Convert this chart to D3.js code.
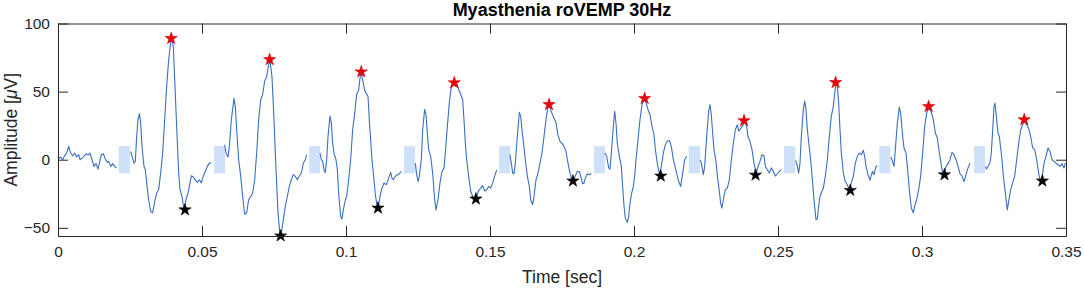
<!DOCTYPE html>
<html>
<head>
<meta charset="utf-8">
<script src="https://cdn.jsdelivr.net/npm/d3@7"></script>
<style>
  body { margin: 0; background: #fff; }
  svg { display: block; font-family: "Liberation Sans", Arial, sans-serif; }
</style>
</head>
<body>
<svg></svg>
<script>
const w = 1084
const h = 291

// recorded trace [time sec, amplitude uV]; null = blanked window
const signal = [
  [0,0.5],[0.00093,2],[0.00162,0],[0.00231,3],[0.00301,4.9],[0.0037,9.8],[0.0044,4.9],[0.00509,2.9],
  [0.00579,4.9],[0.00648,2],[0.00718,3.7],[0.00764,0],[0.00833,1.2],[0.00903,2.5],[0.00972,4.4],[0.01042,3.4],
  [0.01111,4.9],[0.01181,0],[0.0125,-4.9],[0.01319,-2.9],[0.01389,-6.9],[0.01435,-2.5],[0.01505,3.7],[0.01574,4.4],
  [0.01644,0.5],[0.01713,-2],[0.01759,-1.2],[0.01829,-4.9],[0.01898,-2.9],[0.01968,-4.9],[0.02037,-6.1],
  [0.023,null],
  [0.02523,6.1],[0.02569,2.5],[0.02639,-2.5],[0.02685,-1.2],[0.02731,17],[0.02778,29.4],[0.02824,33.8],[0.0287,27],
  [0.02917,9.8],[0.02986,-4.9],[0.03032,-7.4],[0.03079,-17],[0.03148,-29.4],[0.03218,-38],[0.03287,-39],[0.03356,-31],
  [0.03426,-24.5],[0.03495,-22],[0.03565,-9.8],[0.03634,4.9],[0.03704,29.4],[0.03773,54],[0.03843,73.5],[0.03912,85.8],
  [0.03958,88],[0.04005,83],[0.04051,59],[0.0412,24.5],[0.0419,-9.8],[0.04236,-22],[0.04306,-27],[0.04375,-36.8],
  [0.04444,-29.4],[0.04514,-24.5],[0.04583,-17],[0.0463,-11.8],[0.04699,-12.7],[0.04769,-15],[0.04838,-16.7],[0.04907,-14.7],
  [0.04977,-17],[0.05046,-12],[0.05116,-8.6],[0.05185,-4.9],[0.05255,-2.5],[0.05324,-2],
  [0.056,null],
  [0.05787,11],[0.05833,4.9],[0.05903,2],[0.05949,9.8],[0.06019,29.4],[0.06111,45],[0.06157,39],[0.06204,22],
  [0.06273,0],[0.06343,-12],[0.06412,-27],[0.06481,-40],[0.06551,-39],[0.0662,-29.4],[0.0669,-27],[0.06759,-24.5],
  [0.06829,-14.7],[0.06898,4.9],[0.06968,29.4],[0.07037,44],[0.07106,48],[0.07176,57.6],[0.07245,61],[0.07315,70],
  [0.07361,72.5],[0.0743,61],[0.075,29.4],[0.07569,-7.4],[0.07639,-39],[0.07708,-55.5],[0.07755,-54],[0.07824,-44],
  [0.07894,-34],[0.07963,-27],[0.08032,-19.6],[0.08102,-14.7],[0.08171,-11],[0.08241,-12.2],[0.0831,-14.7],[0.0838,-12],
  [0.08449,-9.8],[0.08519,-2.5],[0.08588,0],[0.08634,3.7],
  [0.089,null],
  [0.09097,4.9],[0.09144,0],[0.0919,-1.2],[0.09236,-7.4],[0.09282,-9.3],[0.09329,0],[0.09375,17],[0.09444,32],
  [0.09491,27],[0.09537,12],[0.09583,4.9],[0.09653,0],[0.09699,-7.4],[0.09745,-24.5],[0.09815,-41.7],[0.09861,-43.6],
  [0.09907,-36.8],[0.09977,-29.4],[0.10023,-27],[0.10093,-14.7],[0.10162,0],[0.10231,22],[0.10301,34],[0.1037,48],
  [0.1044,51],[0.10486,60],[0.10532,63.5],[0.10602,56],[0.10648,51],[0.10718,48],[0.10764,46.5],[0.1081,29],
  [0.10856,14.7],[0.10903,0],[0.10972,-14.7],[0.11019,-25.7],[0.11065,-32],[0.11111,-35],[0.11157,-30],[0.11204,-24.5],
  [0.1125,-21],[0.11319,-17],[0.11389,-18.4],[0.11435,-16.5],[0.11505,-12],[0.11551,-9.3],[0.11597,-13.5],[0.11644,-14.7],
  [0.11713,-12.2],[0.11782,-11],[0.11852,-10.3],[0.11921,-8.6],
  [0.122,null],
  [0.12407,-2.5],[0.12454,-11],[0.125,-16],[0.12546,-12.2],[0.12616,0],[0.12662,22],[0.12731,37],[0.12778,33],
  [0.12824,19.6],[0.1287,7.4],[0.1294,2.5],[0.13009,-9.8],[0.13079,-29.4],[0.13125,-36.8],[0.13194,-29.4],[0.13264,-17],
  [0.13333,-8.6],[0.13403,-6],[0.13449,4.9],[0.13519,24.5],[0.13588,41.7],[0.13657,54],[0.13727,56],[0.13796,54],
  [0.13866,55],[0.13912,51.5],[0.13981,48],[0.14051,44],[0.14097,29.4],[0.14144,12],[0.1419,0],[0.14259,-12],
  [0.14329,-23],[0.14398,-27],[0.14468,-28],[0.14537,-27],[0.14606,-22.5],[0.14676,-21],[0.14745,-19],[0.14815,-23],
  [0.14884,-22],[0.14954,-19.6],[0.15023,-20.8],[0.15093,-17],[0.15162,-12],[0.15231,-7.4],
  [0.155,null],
  [0.15694,3.7],[0.1574,-2.5],[0.15787,-9.8],[0.15833,-10.3],[0.1588,-2.5],[0.15949,17],[0.16019,34.8],[0.16065,32],
  [0.16111,22],[0.16157,13.5],[0.16227,0],[0.16296,-12],[0.16366,-19.6],[0.16412,-29.4],[0.16481,-33],[0.16528,-27],
  [0.16597,-14.7],[0.16667,-9.8],[0.16736,-2.5],[0.16806,4.9],[0.16875,17],[0.16944,29.4],[0.17014,39.5],[0.17083,38],
  [0.17153,34],[0.17222,30.6],[0.17292,27],[0.17361,18],[0.17431,13.5],[0.175,12],[0.17569,9.8],[0.17639,6],
  [0.17708,-2.5],[0.17778,-9.8],[0.17824,-13.5],[0.17894,-15.2],[0.17963,-11.8],[0.18032,-8.6],[0.18102,-8.6],[0.18148,-12],
  [0.18218,-17.6],[0.18264,-17.2],[0.1831,-13.5],[0.1838,-10.3],[0.18449,-11],[0.18519,-9.8],
  [0.187,null],
  [0.18981,4.9],[0.19051,2.5],[0.1912,-6],[0.19167,-6.9],[0.19213,4.9],[0.19282,24.5],[0.19329,35.5],[0.19375,27],
  [0.19421,12],[0.19491,2.5],[0.1956,-4.9],[0.19606,-19.6],[0.19653,-34],[0.19699,-43],[0.19769,-46],[0.19815,-41.7],
  [0.19861,-32],[0.19907,-25.7],[0.19977,-19.6],[0.20023,-12],[0.20069,0],[0.20139,14.7],[0.20208,29.4],[0.20278,40.4],
  [0.20347,44],[0.20417,42],[0.20486,36.8],[0.20556,33],[0.20625,24.5],[0.20694,18.4],[0.20741,7.4],[0.2081,-2.5],
  [0.2088,-11],[0.20949,-4.9],[0.21019,4.9],[0.21088,11],[0.21157,13.5],[0.21227,14.2],[0.21296,9.8],[0.21366,0],
  [0.21435,-6],[0.21481,-9.8],[0.21551,-16],[0.2162,-19.6],[0.2169,-9.8],[0.21759,0],[0.21829,2.5],
  [0.2205,null],
  [0.22292,0],[0.22338,-2.5],[0.22407,-11],[0.22454,-4.9],[0.22523,17],[0.22593,35.5],[0.22639,40.4],[0.22685,33],
  [0.22731,19.6],[0.22778,7.4],[0.22847,-1.2],[0.22894,-12],[0.22963,-23],[0.23009,-32],[0.23056,-35.5],[0.23102,-29.4],
  [0.23171,-22],[0.23241,-20.8],[0.2331,-14.7],[0.2338,0],[0.23449,12],[0.23519,22],[0.23588,25.7],[0.23634,21],
  [0.23704,23],[0.23773,25],[0.23843,28],[0.23912,24.5],[0.23958,17],[0.24028,13.5],[0.24097,7.4],[0.24167,-2.5],
  [0.24236,-10.5],[0.24306,-4.9],[0.24375,-1.2],[0.24444,3.7],[0.24514,2.9],[0.2456,-4.9],[0.2463,-7.4],[0.24699,-9.8],
  [0.24769,-6],[0.24838,-8.6],[0.24907,-12],[0.24977,-10.3],[0.25046,-8.6],[0.25116,-7.4],
  [0.2535,null],
  [0.25602,-0.5],[0.25648,-2.5],[0.25718,-9.8],[0.25764,-2.5],[0.2581,17],[0.2588,36.8],[0.25926,43],[0.25972,36.8],
  [0.26019,22],[0.26088,8.6],[0.26134,0],[0.26204,-17],[0.2625,-29.4],[0.26319,-44],[0.26366,-43.5],[0.26412,-34],
  [0.26458,-27],[0.26528,-23],[0.26574,-20.8],[0.26644,-12],[0.26713,0],[0.26782,17],[0.26852,32],[0.26921,39],
  [0.26968,49],[0.27014,56],[0.2706,54],[0.27106,41.7],[0.27153,22],[0.27199,4.9],[0.27269,-9.8],[0.27338,-16],
  [0.27407,-18.4],[0.27477,-22],[0.27546,-17],[0.27616,-12],[0.27685,-2.5],[0.27755,2.5],[0.27824,4.9],[0.27894,3.7],
  [0.27963,6.9],[0.28009,2.5],[0.28056,-4.9],[0.28125,-11],[0.28194,-15],[0.28241,-11],[0.28287,-8.6],[0.28333,-11],
  [0.28403,-4.9],[0.28449,-4.4],
  [0.287,null],
  [0.28912,2],[0.28958,0],[0.29028,-4.9],[0.29074,7.4],[0.29144,27],[0.29213,38.7],[0.29259,34],[0.29329,17],
  [0.29375,8.6],[0.29444,4.9],[0.29491,-4.9],[0.2956,-22],[0.2963,-35.5],[0.29699,-39],[0.29745,-34],[0.29815,-29.4],
  [0.29884,-22],[0.29954,-12],[0.30023,4.9],[0.30093,24.5],[0.30162,34],[0.30231,38],[0.30301,36],[0.30347,33],
  [0.30394,29.4],[0.30463,19.6],[0.30532,16],[0.30602,4.9],[0.30625,2.5],[0.30694,-7.4],[0.30764,-10.5],[0.30833,-4.9],
  [0.30903,-2.9],[0.30972,0],[0.31042,5.4],[0.31111,3.7],[0.31181,0],[0.3125,-4.9],[0.3132,-10.3],[0.31389,-12],
  [0.31458,-16],[0.31528,-11],[0.31597,-6],[0.31667,-2.5],
  [0.32,null],
  [0.32199,-4.9],[0.32245,-6.9],[0.32292,-4.9],[0.32361,-2],[0.32407,4.9],[0.32454,22],[0.325,39],[0.32535,41.5],
  [0.32593,29.4],[0.32639,19.6],[0.32685,17],[0.32731,8.6],[0.32778,0],[0.32824,-12],[0.32894,-24.5],[0.32963,-36.8],
  [0.3301,-30.6],[0.33079,-22],[0.33148,-17],[0.33218,-12],[0.33287,0],[0.33356,12],[0.33426,22],[0.33495,25.7],
  [0.33565,28.5],[0.33634,25.7],[0.33704,23],[0.33773,17],[0.33843,8.6],[0.33912,7.4],[0.33981,0],[0.34051,-9.8],
  [0.34097,-15],[0.34167,-13.5],[0.34236,-2.5],[0.34306,2.5],[0.34375,8.6],[0.34444,6],[0.34514,0],[0.34583,-1.2],
  [0.34653,-2.5],[0.34722,-3.7],[0.34792,-4.9],[0.34861,-3],[0.34931,-6],[0.34977,-2.5]
];

// detected peaks (red) and troughs (black)
const peakTime = [0.0393, 0.0735, 0.1053, 0.1376, 0.1705, 0.2037, 0.2382, 0.2700, 0.3023, 0.3355];
const peakAmp = [89, 73.5, 64.5, 56.5, 40.5, 45, 28.7, 56.7, 39, 29.4];
const troughTime = [0.0441, 0.0773, 0.1111, 0.1451, 0.1788, 0.2093, 0.2422, 0.2751, 0.3078, 0.3418];
const troughAmp = [-36.8, -55.9, -35.5, -28.8, -15.6, -12, -11.3, -22.5, -11, -15.6];

// stimulus blanking windows
const blankStart = [0.0211, 0.0542, 0.0872, 0.1201, 0.1532, 0.1861, 0.2190, 0.2521, 0.2852, 0.3181];
const blankEnd = [0.0250, 0.0580, 0.0910, 0.1240, 0.1570, 0.1899, 0.2229, 0.2560, 0.2890, 0.3219];
const blankAmp = [-10, 10];

const xTicks = [0, 0.05, 0.1, 0.15, 0.2, 0.25, 0.3, 0.35];
const yTicks = [-50, 0, 50, 100];

const margin = {top: 23.5, right: 18, bottom: 55, left: 58};
const innerWidth = w - margin.left - margin.right;
const innerHeight = h - margin.top - margin.bottom;
const axisColor = '#262626';

const svg = d3.select('svg')
  .attr('width', w)
  .attr('height', h);

const xScale = d3.scaleLinear()
  .domain([0, 0.35])
  .range([0, innerWidth]);

const yScale = d3.scaleLinear()
  .domain([-56, 100])
  .range([innerHeight, 0]);

const g = svg.append('g')
  .attr('transform', `translate(${margin.left}, ${margin.top})`);

// blanking patches
g.selectAll('rect.blank').data(blankStart)
  .enter().append('rect')
    .attr('class', 'blank')
    .attr('x', d => xScale(d))
    .attr('width', (d, i) => xScale(blankEnd[i]) - xScale(d))
    .attr('y', yScale(blankAmp[1]))
    .attr('height', yScale(blankAmp[0]) - yScale(blankAmp[1]))
    .attr('fill', '#cfe1f8');

const line = d3.line()
  .defined(d => d[1] !== null)
  .x(d => xScale(d[0]))
  .y(d => yScale(d[1]));

g.append('path')
  .datum(signal)
  .attr('d', line)
  .attr('fill', 'none')
  .attr('stroke', '#3a6fc0')
  .attr('stroke-width', 1.1)
  .attr('stroke-linejoin', 'round');

const star = d3.symbol().type(d3.symbolStar).size(46);

g.selectAll('path.peak').data(peakTime)
  .enter().append('path')
    .attr('class', 'peak')
    .attr('d', star)
    .attr('transform', (d, i) => `translate(${xScale(d)}, ${yScale(peakAmp[i])})`)
    .attr('fill', '#e8000b')
    .attr('stroke', '#d00000')
    .attr('stroke-width', 0.6);

g.selectAll('path.trough').data(troughTime)
  .enter().append('path')
    .attr('class', 'trough')
    .attr('d', star)
    .attr('transform', (d, i) => `translate(${xScale(d)}, ${yScale(troughAmp[i])})`)
    .attr('fill', '#000')
    .attr('stroke', '#000')
    .attr('stroke-width', 0.6);

// axes (MATLAB style: inward ticks, full box)
const xAxis = d3.axisBottom(xScale)
  .tickValues(xTicks)
  .tickFormat(d3.format('~g'))
  .tickSizeInner(-10)
  .tickSizeOuter(0)
  .tickPadding(10);

const yAxis = d3.axisLeft(yScale)
  .tickValues(yTicks)
  .tickSizeInner(-10)
  .tickSizeOuter(0)
  .tickPadding(18);

const xAxisG = g.append('g')
  .attr('transform', `translate(0, ${innerHeight})`)
  .call(xAxis);

const yAxisG = g.append('g').call(yAxis);

// mirrored ticks on top and right, no labels
g.append('g')
  .call(d3.axisTop(xScale).tickValues(xTicks).tickSizeInner(-10).tickSizeOuter(0))
  .selectAll('text').remove();

g.append('g')
  .attr('transform', `translate(${innerWidth}, 0)`)
  .call(d3.axisRight(yScale).tickValues(yTicks).tickSizeInner(-10).tickSizeOuter(0))
  .selectAll('text').remove();

g.selectAll('.domain, .tick line')
  .attr('stroke', axisColor)
  .attr('stroke-width', 1);

g.selectAll('.tick text')
  .attr('fill', axisColor)
  .attr('font-size', '15.5px')
  .attr('font-family', '"Liberation Sans", Arial, sans-serif');

yAxisG.selectAll('.tick text').attr('x', -8);

xAxisG.append('text')
  .attr('x', innerWidth / 2)
  .attr('y', 46.5)
  .attr('fill', axisColor)
  .attr('text-anchor', 'middle')
  .attr('font-size', '17.5px')
  .text('Time [sec]');

svg.append('text')
  .attr('transform', `translate(17, ${margin.top + innerHeight / 2}) rotate(-90)`)
  .attr('fill', axisColor)
  .attr('text-anchor', 'middle')
  .attr('font-size', '17.5px')
  .text('Amplitude [')
  .call(t => t.append('tspan').attr('font-style', 'italic').text('μ'))
  .call(t => t.append('tspan').text('V]'));

svg.append('text')
  .attr('x', margin.left + innerWidth / 2)
  .attr('y', 16)
  .attr('text-anchor', 'middle')
  .attr('font-weight', 'bold')
  .attr('font-size', '18px')
  .attr('fill', '#000')
  .text('Myasthenia roVEMP 30Hz');
</script>
</body>
</html>
